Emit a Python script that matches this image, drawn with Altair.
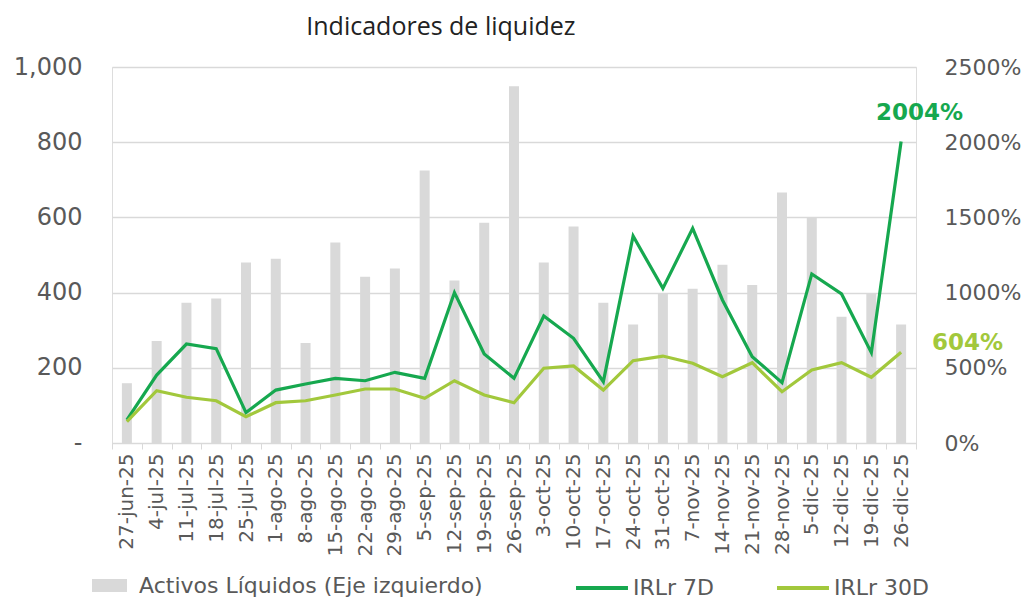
import altair as alt
import pandas as pd

fechas = ["27-jun-25", "4-jul-25", "11-jul-25", "18-jul-25", "25-jul-25", "1-ago-25", "8-ago-25",
          "15-ago-25", "22-ago-25", "29-ago-25", "5-sep-25", "12-sep-25", "19-sep-25", "26-sep-25",
          "3-oct-25", "10-oct-25", "17-oct-25", "24-oct-25", "31-oct-25", "7-nov-25", "14-nov-25",
          "21-nov-25", "28-nov-25", "5-dic-25", "12-dic-25", "19-dic-25", "26-dic-25"]
activos = [159, 271, 373, 384, 480, 490, 266, 533, 442, 464, 725, 432, 586, 949,
           480, 576, 373, 315, 398, 410, 474, 420, 666, 600, 336, 398, 315]
irl_7d = [153, 452, 658, 627, 202, 352, 392, 430, 414, 470, 430, 1000, 592, 430,
          844, 696, 408, 1376, 1028, 1427, 951, 574, 401, 1124, 991, 601, 2004]
irl_30d = [142, 348, 304, 281, 175, 268, 281, 319, 359, 359, 297, 414, 319, 268,
           497, 512, 352, 547, 578, 530, 441, 534, 341, 485, 534, 437, 604]

S_BAR = "Activos Líquidos (Eje izquierdo)"
S7 = "IRLr 7D"
S30 = "IRLr 30D"
C_BAR = "#d9d9d9"
C7 = "#16a84f"
C30 = "#a2c83c"

bars_df = pd.DataFrame({"fecha": fechas, "valor": activos, "serie": S_BAR})
lines_df = pd.concat([
    pd.DataFrame({"fecha": fechas, "valor": irl_7d, "serie": S7, "i": range(len(fechas))}),
    pd.DataFrame({"fecha": fechas, "valor": irl_30d, "serie": S30, "i": range(len(fechas))}),
])

FONT = "DejaVu Sans"
GREY = "#595959"

x = alt.X("fecha:N", sort=fechas, title=None,
          scale=alt.Scale(paddingInner=0, paddingOuter=0),
          axis=alt.Axis(labelAngle=-90, labelFont=FONT, labelFontSize=20, labelColor=GREY,
                        domainColor=C_BAR, tickColor=C_BAR, tickSize=6, tickBand="extent",
                        labelPadding=4, grid=False, labelOverlap=False))

bars = alt.Chart(bars_df).mark_bar(size=10).encode(
    x=x,
    y=alt.Y("valor:Q", title=None, scale=alt.Scale(domain=[0, 1000], nice=False),
            axis=alt.Axis(values=[0, 200, 400, 600, 800, 1000], orient="left",
                          labelExpr="datum.value == 0 ? '-' : format(datum.value, ',')",
                          labelFont=FONT, labelFontSize=24, labelColor=GREY, labelPadding=30,
                          ticks=False, domain=False, gridColor=C_BAR, gridWidth=1.3)),
    color=alt.Color("serie:N", scale=alt.Scale(domain=[S_BAR], range=[C_BAR]),
                    legend=alt.Legend(orient="none", legendX=-20, legendY=501, title=None,
                                      symbolType="M-1,-0.37H1V0.37H-1Z", symbolSize=1225,
                                      symbolStrokeWidth=0, symbolOpacity=1,
                                      labelFont=FONT, labelFontSize=22, labelColor=GREY,
                                      labelOffset=12, padding=0, labelLimit=500)),
)

yr = alt.Y("valor:Q", title=None, scale=alt.Scale(domain=[0, 2500], nice=False),
           axis=alt.Axis(values=[0, 500, 1000, 1500, 2000, 2500], orient="right",
                         labelExpr="format(datum.value, 'd') + '%'",
                         labelFont=FONT, labelFontSize=22, labelColor=GREY, labelPadding=28,
                         ticks=False, domain=False, grid=False))

lines = alt.Chart(lines_df).mark_line(strokeWidth=3.2).encode(
    x=x, y=yr, order="i:Q",
    color=alt.Color("serie:N", scale=alt.Scale(domain=[S7, S30], range=[C7, C30]),
                    legend=alt.Legend(orient="none", legendX=462, legendY=493, title=None,
                                      direction="horizontal", symbolType="stroke",
                                      symbolSize=2700, symbolStrokeWidth=4,
                                      labelFont=FONT, labelFontSize=22, labelColor=GREY,
                                      labelOffset=3, columnPadding=54, padding=0)),
)

last = fechas[-1]
t7 = alt.Chart(lines_df).transform_filter(
    (alt.datum.serie == S7) & (alt.datum.fecha == last)
).transform_calculate(lbl="format(datum.valor, 'd') + '%'").mark_text(
    color=C7, font=FONT, fontSize=23, fontWeight="bold", align="left", dx=-25, dy=-29
).encode(x=x, y=yr, text="lbl:N")

t30 = alt.Chart(lines_df).transform_filter(
    (alt.datum.serie == S30) & (alt.datum.fecha == last)
).transform_calculate(lbl="format(datum.valor, 'd') + '%'").mark_text(
    color=C30, font=FONT, fontSize=23, fontWeight="bold", align="left", dx=31, dy=-9
).encode(x=x, y=yr, text="lbl:N")

right = alt.layer(lines, t7, t30)

chart = alt.layer(bars, right).resolve_scale(y="independent", color="independent").properties(
    width=804, height=376,
    padding={"left": 104, "top": 59, "right": 108, "bottom": 156},
    autosize=alt.AutoSizeParams(type="none"),
    title=alt.TitleParams("Indicadores de liquidez", anchor="start", dx=293, offset=15,
                          font="Open Sans", fontSize=25, fontWeight="normal", color="#222222"),
).configure_view(stroke=None).configure(background="white")

chart.save("out.html", embed_options={"renderer": "svg", "actions": False})
